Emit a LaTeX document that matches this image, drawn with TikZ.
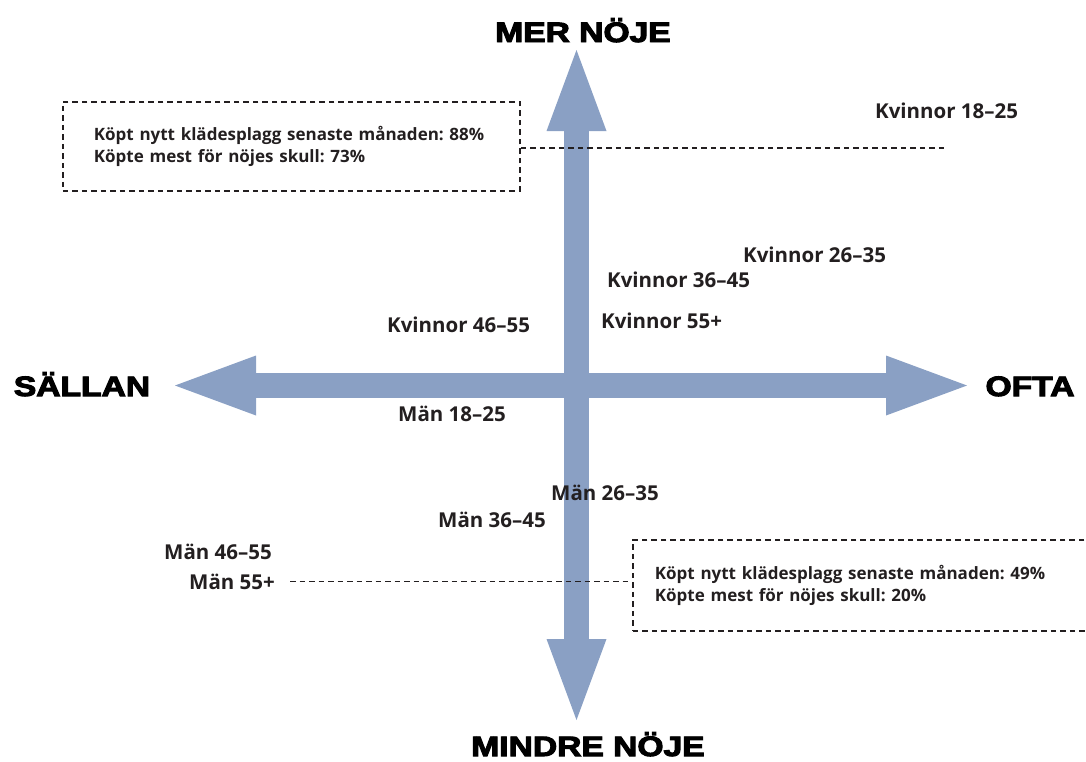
\documentclass[tikz,border=0pt]{standalone}
\usepackage{fontspec}
\usepackage{graphicx}
\setmainfont{Open Sans}
\newfontfamily\heavyfont{Liberation Sans}[BoldFeatures={FakeBold=3.5}]
\usetikzlibrary{arrows.meta,positioning}
\definecolor{axisblue}{RGB}{138,160,196}
\definecolor{inkgray}{RGB}{35,31,32}
\newcommand{\polename}[1]{\scalebox{1.2}[1]{#1}}
\frenchspacing

\begin{document}
\begin{tikzpicture}[
  x=1pt, y=-1pt,
  axis/.style={draw=axisblue,line width=25pt,
    {Triangle[length=81pt,width=60pt,line width=0pt]}-{Triangle[length=81pt,width=60pt,line width=0pt]}},
  pole/.style={font=\heavyfont\bfseries\fontsize{28}{30}\selectfont,text=black,inner sep=0pt,anchor=base},
  group/.style={font=\bfseries\fontsize{20.5}{24}\selectfont,text=inkgray,inner sep=0pt,anchor=base west},
  dashline/.style={draw=inkgray,line width=1.8pt,dash pattern=on 5.5pt off 4pt},
  factbox/.style={dashline,rectangle,anchor=north west,align=left,text=inkgray,
    font=\bfseries\fontsize{17}{21.5}\selectfont}
]
\useasboundingbox (0,0) rectangle (1086,761);

% axes
\coordinate (top) at (576.5,50);
\coordinate (bottom) at (576.5,720);
\coordinate (left) at (175,385.5);
\coordinate (right) at (967,385.5);
\draw[axis] (left) -- (right);
\draw[axis] (bottom) -- (top);

\node[pole] (mer) at (583,42) {\polename{MER NÖJE}};
\node[pole] (mindre) at (588,756) {\polename{MINDRE NÖJE}};
\node[pole] (sallan) at (82,396) {\polename{SÄLLAN}};
\node[pole] (ofta) at (1030,396) {\polename{OFTA}};

% groups
\node[group] (k18) at (875,118) {Kvinnor 18–25};
\node[group] (k26) at (743,262) {Kvinnor 26–35};
\node[group] (k36) at (607,287) {Kvinnor 36–45};
\node[group] (k46) at (387,332) {Kvinnor 46–55};
\node[group] (k55) at (601,328) {Kvinnor 55+};
\node[group] (m18) at (398,421) {Män 18–25};
\node[group] (m26) at (551,500) {Män 26–35};
\node[group] (m36) at (438,527) {Män 36–45};
\node[group] (m46) at (164,559) {Män 46–55};
\node[group] (m55) at (189,589) {Män 55+};

% fact boxes
\node[factbox,minimum width=457pt,minimum height=89pt,text width=395pt,inner xsep=31pt]
  (box1) at (62,101) {Köpt nytt klädesplagg senaste månaden: 88\%\\Köpte mest för nöjes skull: 73\%};
\node[factbox,minimum width=470pt,minimum height=91pt,text width=426pt,inner xsep=22pt]
  (box2) at (632,539) {Köpt nytt klädesplagg senaste månaden: 49\%\\Köpte mest för nöjes skull: 20\%};

\coordinate (k18tail) at (948,148);
\draw[dashline] (k18tail -| box1.east) -- (k18tail);
\draw[dashline,shorten <=15pt] (m55.east) -- (m55.east -| box2.west);
\end{tikzpicture}
\end{document}
